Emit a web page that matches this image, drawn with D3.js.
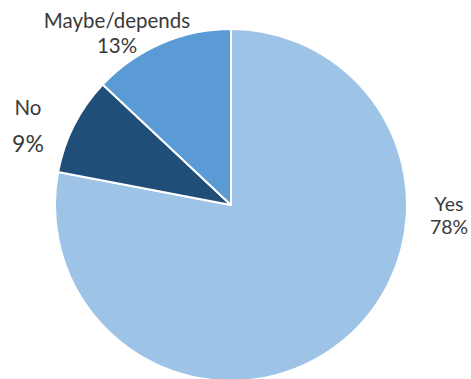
<!DOCTYPE html>
<html>
<head>
<meta charset="utf-8">
<script src="https://cdn.jsdelivr.net/npm/d3@7"></script>
<style>
  html, body { margin: 0; padding: 0; background: #fff; }
  svg text { font-family: Lato, "Liberation Sans", sans-serif; fill: #3a3a3a; }
</style>
</head>
<body>
<div id="chart"></div>
<script>
// Survey answers, clockwise from 12 o'clock
const categories = ['Yes', 'No', 'Maybe/depends'];
const shares = [78, 9, 13];
const percentLabels = ['78%', '9%', '13%'];
const sliceColors = ['#9dc3e6', '#1f4e79', '#5b9bd5'];

function drawPie() {
    const width = 471;
    const height = 379;
    const cx = 231;
    const cy = 205;
    const radius = 176;

    const svg = d3.select('#chart').append('svg')
        .attr('width', width)
        .attr('height', height);

    const data = categories.map((c, i) => ({ name: c, value: shares[i], label: percentLabels[i], color: sliceColors[i] }));

    const pie = d3.pie()
        .sort(null)
        .value(d => d.value);

    const arc = d3.arc()
        .innerRadius(0)
        .outerRadius(radius);

    const g = svg.append('g')
        .attr('transform', `translate(${cx},${cy})`);

    g.selectAll('path')
        .data(pie(data))
        .enter()
        .append('path')
        .attr('d', arc)
        .attr('fill', d => d.data.color)
        .attr('stroke', '#fff')
        .attr('stroke-width', 2)
        .attr('stroke-linejoin', 'round');

    // label placement (offsets from pie centre), two lines each
    const labelPos = {
        'Yes': { x: 218, y1: 6, y2: 29, size: 19.5 },
        'No': { x: -203, y1: -90, y2: -53, size: 20.5 },
        'Maybe/depends': { x: -114, y1: -177, y2: -152, size: 20.5 }
    };

    const labels = g.selectAll('.lbl')
        .data(data)
        .enter()
        .append('g')
        .attr('class', 'lbl');

    labels.append('text')
        .attr('text-anchor', 'middle')
        .attr('x', d => labelPos[d.name].x)
        .attr('y', d => labelPos[d.name].y1)
        .attr('font-size', d => labelPos[d.name].size + 'px')
        .text(d => d.name);

    labels.append('text')
        .attr('text-anchor', 'middle')
        .attr('x', d => labelPos[d.name].x)
        .attr('y', d => labelPos[d.name].y2)
        .attr('font-size', d => d.name === 'No' ? '23px' : labelPos[d.name].size + 'px')
        .text(d => d.label);
}

drawPie();
</script>
</body>
</html>
